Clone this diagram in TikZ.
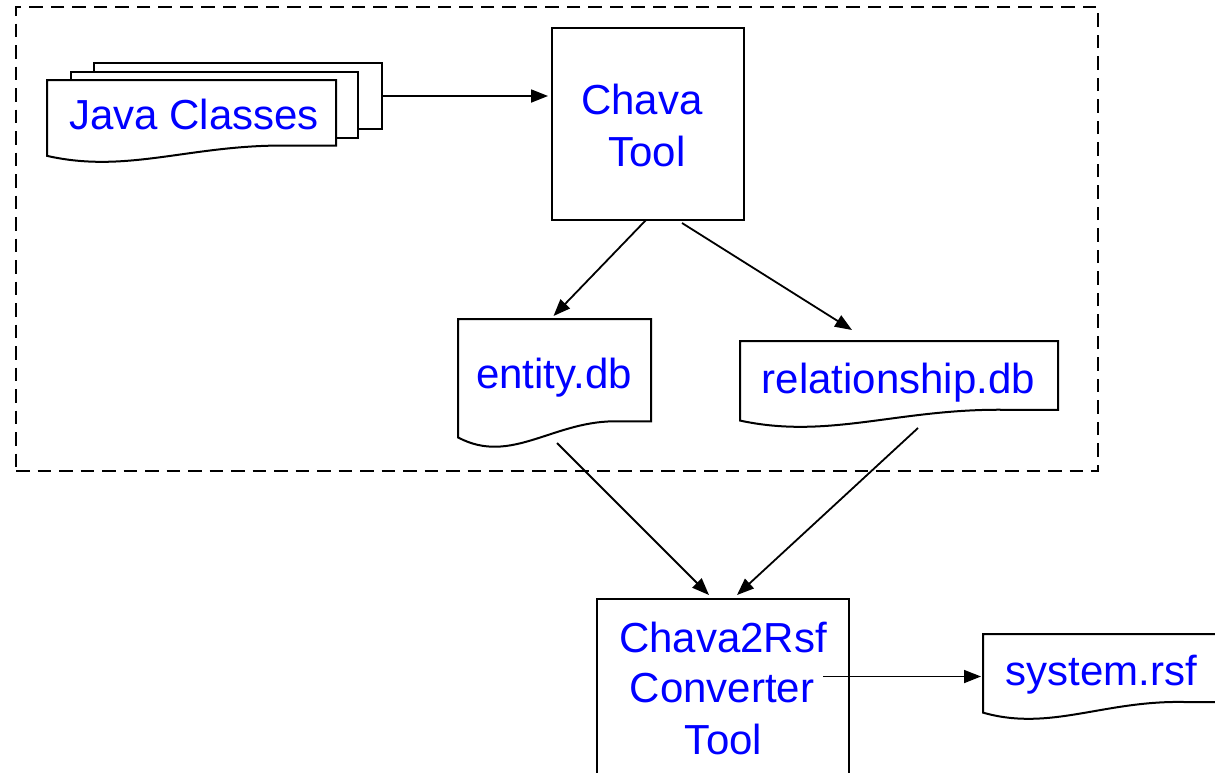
\documentclass[tikz,border=0pt]{standalone}
\usepackage{fontspec}
\setmainfont{Liberation Sans}
\usetikzlibrary{arrows.meta,calc}
\definecolor{txtblue}{RGB}{0,0,255}
\tikzset{
  outline/.style={draw=black, line width=2pt, fill=white, line join=miter},
  box/.style={outline, rectangle, inner sep=0pt, outer sep=0pt},
  docbox/.style={rectangle, draw=none, inner sep=0pt, outer sep=0pt},
  grp/.style={rectangle, draw=black, line width=2pt, dash pattern=on 13.5pt off 8pt, inner sep=0pt, outer sep=0pt},
  lbl/.style={anchor=base, text=txtblue, inner sep=0pt, font=\fontsize{42}{50}\selectfont},
  arrow/.style={draw=black, line width=1.8pt, -{Triangle[length=17pt,width=13pt]}}
}
\newcommand{\docoutline}[1]{%
  \draw[outline] let \p1=(#1.north west), \p2=(#1.south east),
    \n1={\x2-\x1}, \n2={\y1-\y2} in
    (\x2,\y1) -- (\x1,\y1) -- (\x1,{\y1-0.925*\n2})
    .. controls ({\x1+0.28*\n1},{\y1-1.15*\n2}) and ({\x1+0.5*\n1},{\y1-0.78*\n2}) ..
    ({\x1+0.84*\n1},{\y1-0.8*\n2}) -- (\x2,{\y1-0.8*\n2}) -- cycle;}
\begin{document}
\begin{tikzpicture}[x=1pt,y=-1pt]
\useasboundingbox (0,0) rectangle (1215,772);
\clip (0,0) rectangle (1215,772);
\fill[white] (0,0) rectangle (1215,772);

% dashed group
\node[grp, minimum width=1082pt, minimum height=464pt] (group) at (557,239) {};

% Java classes stack
\node[box, minimum width=288pt, minimum height=66pt] (page3) at (238,96) {};
\node[box, minimum width=287pt, minimum height=66pt] (page2) at (214.5,105) {};
\node[docbox, minimum width=289pt, minimum height=82pt] (java) at (191.5,121) {};
\docoutline{java}
\node[lbl] (javatext) at (194,129) {Java Classes};

% Chava tool
\node[box, minimum width=192pt, minimum height=192pt] (chava) at (648,124) {};
\node[lbl] (chavaA) at (642,114) {Chava};
\node[lbl] (chavaB) at (647,166) {Tool};

% entity.db
\node[docbox, minimum width=193pt, minimum height=128pt] (entity) at (554.5,383) {};
\docoutline{entity}
\node[lbl] (entitytext) at (554,388) {entity.db};

% relationship.db
\node[docbox, minimum width=318pt, minimum height=86pt] (rel) at (899,384) {};
\docoutline{rel}
\node[lbl] (reltext) at (898.5,393) {relationship.db};

% converter
\node[box, minimum width=252pt, minimum height=231pt] (conv) at (723,714.5) {};
\node[lbl] (convA) at (723,652) {Chava2Rsf};
\node[lbl] (convB) at (722,702) {Converter};
\node[lbl] (convC) at (723.5,754) {Tool};

% system.rsf
\node[docbox, minimum width=240pt, minimum height=85pt] (sys) at (1103,676.5) {};
\docoutline{sys}
\node[lbl] (systext) at (1101.5,685) {system.rsf};

% connectors
\draw[arrow] (page3.east) -- ([xshift=-4pt]page3.east -| chava.west);
\draw[arrow] ([shift={(-2,0)}]chava.south) -- ([shift={(-1,-3)}]entity.north);
\draw[arrow] ([shift={(34,3)}]chava.south) -- ([shift={(-47,-11)}]rel.north);
\draw[arrow] ([shift={(2.5,-4)}]entity.south) -- ([shift={(-14,-4)}]conv.north);
\draw[arrow] ([shift={(19,1)}]rel.south) -- ([shift={(14,-4)}]conv.north);
\coordinate (cstart) at ([xshift=-26pt]conv.east |- sys.west);
\draw[arrow] (cstart) -- ([xshift=-2pt]sys.west);
\end{tikzpicture}
\end{document}
